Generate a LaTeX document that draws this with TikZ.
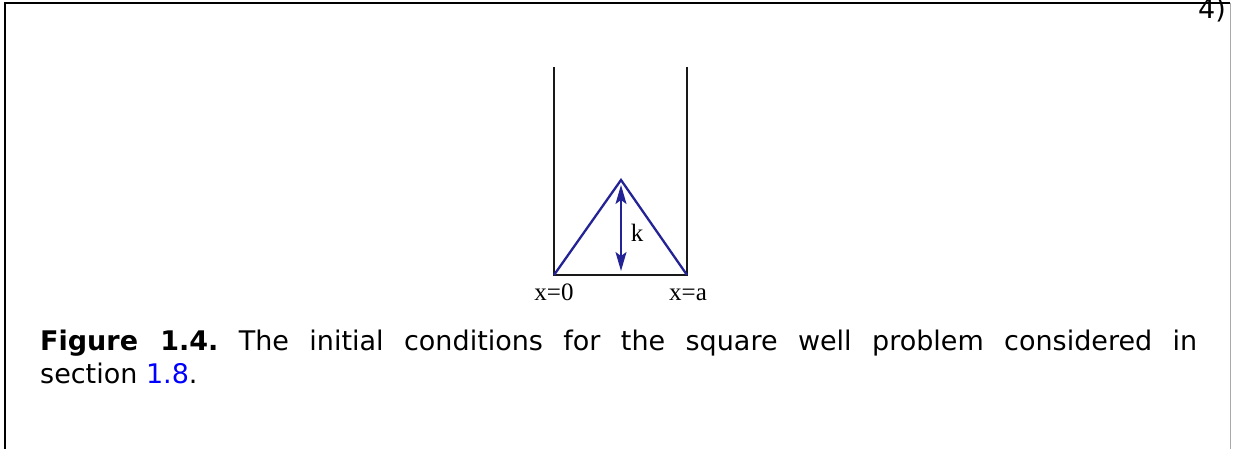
\documentclass[tikz,border=0pt]{standalone}
\usepackage{fontspec}
\setmainfont{DejaVu Sans}
\newfontfamily\labelfont{Liberation Serif}
\usetikzlibrary{arrows.meta}
\definecolor{wellblue}{RGB}{35,35,150}
\definecolor{linkblue}{RGB}{0,0,255}
\definecolor{framegray}{RGB}{170,170,170}
\tikzset{
  wall/.style={line width=2.4pt, black!90},
  wave/.style={line width=2.3pt, wellblue, line join=miter},
  karrow/.style={line width=1.6pt, wellblue, {Stealth[length=19pt,width=11pt,inset=4pt]}-{Stealth[length=19pt,width=11pt,inset=4pt]}},
  lbl/.style={font=\labelfont\fontsize{25}{29}\selectfont, inner sep=0pt},
}
\begin{document}
\frenchspacing
\begin{tikzpicture}[x=1pt,y=-1pt]
\useasboundingbox (0,0) rectangle (1233,449);
% frame
\draw[line width=1.5pt, black] (5,449) -- (5,3) -- (1230,3);
\draw[line width=1pt, framegray] (1230,3) -- (1230,449);
\node[anchor=base east, inner sep=0pt, font=\fontsize{27}{33}\selectfont] (num) at (1226,19) {4)};
% well
\coordinate (tl) at (554,67);
\coordinate (bl) at (554,275);
\coordinate (br) at (687,275);
\coordinate (tr) at (687,67);
\coordinate (apex) at (621,180);
\coordinate (atop) at (621,185);
\coordinate (abot) at (621,271);
\draw[wall] (tl) -- (bl) -- (br) -- (tr);
\draw[wave] (bl) -- (apex) -- (br);
\draw[karrow] (atop) -- (abot);
\node[lbl] (k) at (637,233) {k};
\node[lbl, anchor=base] (x0) at (554,300) {x=0};
\node[lbl, anchor=base] (xa) at (688,300) {x=a};
% caption
\node[anchor=north west, inner sep=0pt, text width=1157pt, align=justify,
      font=\fontsize{27}{33}\selectfont\frenchspacing] (cap) at (40,329.5)
  {\textbf{Figure 1.4.} The initial conditions for the square well problem considered in\linebreak section {\color{linkblue}1.8}.};
\end{tikzpicture}
\end{document}
